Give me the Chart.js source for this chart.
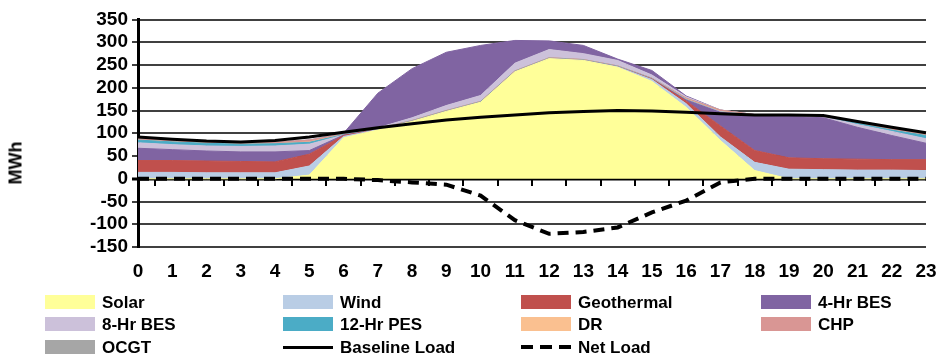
<!DOCTYPE html>
<html>
<head>
<meta charset="utf-8">
<title>Hourly dispatch</title>
<script src="https://cdn.jsdelivr.net/npm/chart.js@4.4.1/dist/chart.umd.min.js"></script>
<style>
  html, body { margin: 0; padding: 0; background: #fff; }
  #wrap { width: 936px; height: 358px; position: relative; font-family: 'Liberation Sans', Arial, sans-serif; }
  #wrap canvas { position: absolute; left: 0; top: 0; }
  .ytitle { position: absolute; left: 16px; top: 163px; transform: translate(-50%, -50%) rotate(-90deg);
            font-weight: bold; font-size: 18px; white-space: nowrap; color: #000; }
  .swatch { position: absolute; width: 50px; }
  .lbl { position: absolute; font-weight: bold; font-size: 17px; line-height: 22px; white-space: nowrap; color: #000; }
</style>
</head>
<body>
<div id="wrap">
  <canvas id="dispatchChart" width="936" height="358"></canvas>
  <div class="ytitle">MWh</div>
  <div id="legend"></div>
</div>
<script>
// Hour of day
const hours = ['0','1','2','3','4','5','6','7','8','9','10','11','12','13','14','15','16','17','18','19','20','21','22','23'];

// Generation by resource, MWh (stacked in this order)
const solar      = [0, 0, 0, 0, 0, 8, 90, 107, 126, 148, 168, 235, 264, 260, 245, 214, 157, 84, 18, 0, 0, 0, 0, 0];
const wind       = [14, 14, 13, 13, 13, 20, 3, 1, 0, 0, 0, 0, 0, 0, 1, 4, 8, 8, 18, 21, 20, 19, 19, 18];
const geothermal = [26, 26, 26, 25, 24, 26, 2, 0, 0, 0, 0, 0, 0, 0, 0, 1, 6, 24, 26, 25, 24, 24, 23, 24];
const bes4hr     = [27, 24, 22, 21, 22, 8, 1, 0, 0, 0, 0, 0, 0, 0, 0, 0, 2, 30, 77, 91, 90, 70, 53, 36];
const bes8hr     = [12, 11, 11, 12, 13, 14, 0, 0, 0, 0, 0, 0, 0, 0, 0, 0, 0, 1, 1, 1, 2, 6, 9, 10];
const pes12hr    = [6, 6, 6, 5, 5, 4, 1, 1, 1, 1, 1, 1, 1, 1, 1, 1, 1, 0, 0, 0, 1, 3, 3, 7];
const dr         = [0, 0, 0, 0, 0, 1, 0, 0, 0, 0, 0, 0, 0, 0, 0, 0, 1, 1, 0, 0, 0, 0, 0, 0];
const chp        = [3, 3, 3, 3, 3, 4, 1, 1, 1, 1, 1, 1, 1, 1, 1, 1, 2, 3, 1, 1, 1, 2, 3, 3];
const ocgt       = [0, 0, 0, 0, 0, 0, 0, 0, 0, 0, 0, 0, 0, 0, 0, 0, 0, 0, 0, 0, 0, 0, 0, 0];

// Storage charging absorbed from midday surplus, MWh (stacked on top)
const bes8Charge = [0, 0, 0, 0, 0, 0, 2, 2, 6, 11, 13, 17, 18, 13, 12, 7, 3, 0, 0, 0, 0, 0, 0, 0];
const bes4Charge = [0, 0, 0, 0, 0, 0, 0, 76, 108, 117, 110, 50, 19, 18, 3, 10, 2, 0, 0, 0, 0, 0, 0, 0];

// Load curves, MWh
const baselineLoad = [92, 87, 83, 81, 84, 92, 102, 112, 121, 129, 135, 140, 145, 148, 150, 149, 146, 143, 140, 140, 139, 126, 113, 101];
const netLoad      = [0, 0, 0, 0, 0, 0, 0, -3, -8, -13, -37, -91, -121, -117, -107, -74, -48, -8, 0, 0, 0, 0, 0, 0];

// Y axis range
const yMin = -150;
const yMax = 350;
const yStep = 50;

const FONT = "'Liberation Sans', Arial, sans-serif";

function area(label, data, color, first, inLegend) {
    return {
        label: label,
        data: data,
        backgroundColor: color,
        borderColor: color,
        borderWidth: 1,
        pointRadius: 0,
        tension: 0,
        fill: first ? 'origin' : '-1',
        stack: 'gen',
        order: 2,
        inLegend: inLegend !== false
    };
}

const datasets = [
    area('Solar', solar, '#FFFF99', true),
    area('Wind', wind, '#B9CDE5'),
    area('Geothermal', geothermal, '#C0504D'),
    area('4-Hr BES', bes4hr, '#8064A2'),
    area('8-Hr BES', bes8hr, '#CCC1DA'),
    area('12-Hr PES', pes12hr, '#4BACC6'),
    area('DR', dr, '#FAC090'),
    area('CHP', chp, '#D99694'),
    area('OCGT', ocgt, '#A6A6A6'),
    area('8-Hr BES charging', bes8Charge, '#CCC1DA', false, false),
    area('4-Hr BES charging', bes4Charge, '#8064A2', false, false),
    {
        label: 'Baseline Load',
        data: baselineLoad,
        borderColor: '#000',
        backgroundColor: '#000',
        borderWidth: 3,
        pointRadius: 0,
        tension: 0,
        fill: false,
        stack: 'base',
        order: 0
    },
    {
        label: 'Net Load',
        data: netLoad,
        borderColor: '#000',
        backgroundColor: '#000',
        borderWidth: 4,
        borderDash: [11, 7],
        pointRadius: 0,
        tension: 0,
        fill: false,
        stack: 'net',
        order: 0
    }
];

// Horizontal gridlines (thick at zero), y tick marks, and the short
// hour-boundary marks under the zero line; drawn before the areas
const gridPlugin = {
    id: 'hourGrid',
    beforeDatasetsDraw(chart) {
        const c = chart.ctx;
        const xs = chart.scales.x;
        const ys = chart.scales.y;
        const area = chart.chartArea;
        c.save();
        c.strokeStyle = '#000';
        c.setLineDash([]);
        ys.ticks.forEach(t => {
            const py = Math.round(ys.getPixelForValue(t.value));
            c.lineWidth = t.value === 0 ? 3 : 1.5;
            c.beginPath();
            c.moveTo(area.left - 6, py);
            c.lineTo(area.right, py);
            c.stroke();
        });
        const y0 = Math.round(ys.getPixelForValue(0));
        c.lineWidth = 2;
        for (let i = 0; i < hours.length - 1; i++) {
            const px = Math.round((xs.getPixelForValue(i) + xs.getPixelForValue(i + 1)) / 2);
            c.beginPath();
            c.moveTo(px, y0 + 1);
            c.lineTo(px, y0 + 7);
            c.stroke();
        }
        c.restore();
    }
};

const dispatchChart = new Chart(document.getElementById('dispatchChart'), {
    type: 'line',
    data: {
        labels: hours,
        datasets: datasets
    },
    plugins: [gridPlugin],
    options: {
        responsive: false,
        animation: false,
        events: [],
        layout: {
            padding: { top: 19, right: 10, bottom: 71, left: 0 }
        },
        plugins: {
            legend: { display: false },
            tooltip: { enabled: false }
        },
        scales: {
            x: {
                type: 'category',
                offset: false,
                grid: { display: false, drawTicks: false },
                border: { display: false },
                ticks: {
                    color: '#000',
                    font: { family: FONT, size: 19, weight: 'bold' },
                    padding: 13,
                    maxRotation: 0,
                    autoSkip: false
                },
                afterFit: s => { s.height = 40; s.paddingRight = 0; s.paddingLeft = 0; }
            },
            y: {
                stacked: true,
                min: yMin,
                max: yMax,
                ticks: {
                    stepSize: yStep,
                    autoSkip: false,
                    color: '#000',
                    font: { family: FONT, size: 19, weight: 'bold', lineHeight: 1 },
                    padding: 10
                },
                grid: { display: false, drawTicks: false },
                border: { display: true, color: '#000', width: 3 },
                afterFit: s => { s.width = 138; }
            }
        }
    }
});

// Legend in a 4-column grid under the plot
const legendEl = document.getElementById('legend');
const legendCols = [45, 283, 521, 761];
const legendRows = [302, 324, 347];
dispatchChart.data.datasets.filter(ds => ds.inLegend !== false).forEach((ds, i) => {
    const x = legendCols[i % 4];
    const y = legendRows[Math.floor(i / 4)];
    const swatch = document.createElement('div');
    swatch.className = 'swatch';
    swatch.style.left = x + 'px';
    if (ds.fill === false) {
        swatch.style.top = (y - Math.floor(ds.borderWidth / 2)) + 'px';
        swatch.style.height = ds.borderWidth + 'px';
        swatch.style.background = ds.borderDash
            ? 'repeating-linear-gradient(to right, #000 0 12px, transparent 12px 19px)'
            : ds.borderColor;
    } else {
        swatch.style.top = (y - 7) + 'px';
        swatch.style.height = '14px';
        swatch.style.background = ds.backgroundColor;
    }
    legendEl.appendChild(swatch);

    const lbl = document.createElement('div');
    lbl.className = 'lbl';
    lbl.style.left = (x + 57) + 'px';
    lbl.style.top = (y - 10) + 'px';
    lbl.textContent = ds.label;
    legendEl.appendChild(lbl);
});
</script>
</body>
</html>
